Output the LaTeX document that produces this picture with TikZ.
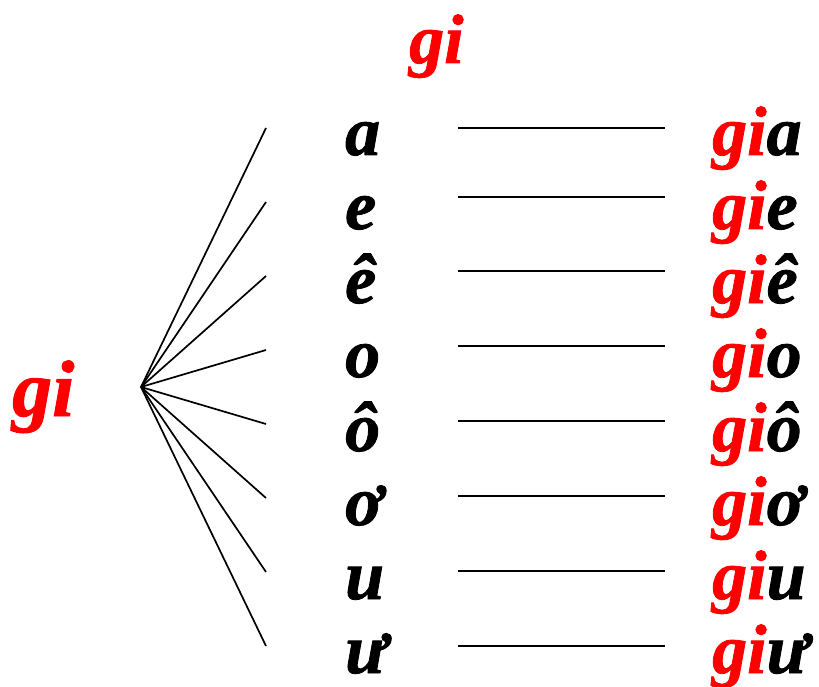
\documentclass[tikz,border=0pt]{standalone}
\usepackage{fontspec}
\setmainfont{Liberation Serif}[BoldItalicFeatures={FakeBold=1.2}]
\usetikzlibrary{positioning}

\begin{document}
\begin{tikzpicture}[x=1pt,y=-1pt,
      lbl/.style={font=\fontsize{70}{70}\selectfont\bfseries\itshape, inner sep=0pt, anchor=base west},
      hl/.style={lbl, text=red},
      ln/.style={line width=1.7pt}]
    \useasboundingbox (0,0) rectangle (819,687);
    \node[hl] (gtop) at (409,63) {gi};
    \node[hl, font=\fontsize{80}{80}\selectfont\bfseries\itshape] (gleft) at (12,416) {gi};
    \coordinate (hub) at (141,387);
    \foreach \v/\y/\ly [count=\i] in {a/155/128, e/229/197, ê/303/271, o/377/346, ô/451/421, ơ/525/496, u/599/571, ư/673/646} {
      \node[lbl] (v\i) at (345,\y) {\v};
      \node[lbl] (w\i) at (712,\y) {\textcolor{red}{gi}\v};
      \coordinate (f\i) at (266,{128+74*(\i-1)});
      \coordinate (s\i) at (458,\ly);
      \coordinate (t\i) at (665,\ly);
      \draw[ln] (hub) -- (f\i);
      \draw[ln] (s\i) -- (t\i);
    }
  \end{tikzpicture}
\end{document}
